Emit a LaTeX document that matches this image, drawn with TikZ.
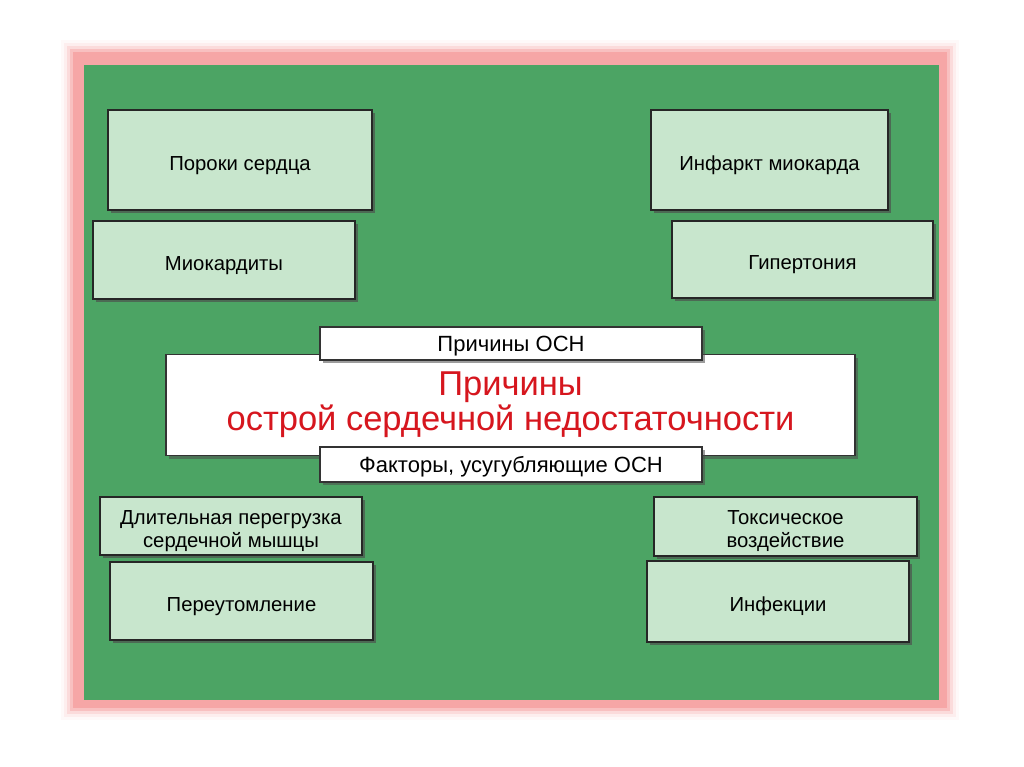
\documentclass[tikz,border=0pt]{standalone}
\usepackage{fontspec}
\setmainfont{Liberation Sans}
\usetikzlibrary{shadows}

\definecolor{slidegreen}{RGB}{76,164,100}
\definecolor{boxgreen}{RGB}{200,230,205}
\definecolor{framepink}{RGB}{246,166,166}
\definecolor{titlered}{RGB}{214,22,30}

\tikzset{
    cause/.style={draw=black!85, line width=1.6pt, fill=boxgreen, align=center,
        inner sep=0pt, font=\fontsize{20.3}{23}\selectfont,
        execute at begin node={\rule{0pt}{25pt}},
        drop shadow={shadow xshift=3pt, shadow yshift=-3pt, opacity=.65, fill=black!70}},
    twoline/.style={cause, execute at begin node={}},
    tag/.style={draw=black!80, line width=1.2pt, fill=white, inner sep=0pt,
        font=\fontsize{22}{25}\selectfont,
        execute at begin node={\rule{0pt}{21.5pt}},
        drop shadow={shadow xshift=3pt, shadow yshift=-3pt, opacity=.55, fill=black!70}}
}

\begin{document}
\begin{tikzpicture}[x=1pt, y=-1pt]
        \useasboundingbox (0,0) rectangle (1024,767);
        \fill[white] (0,0) rectangle (1024,767);
        \foreach \d/\o in {12/0.06, 9/0.12, 6/0.25, 3/0.5}
            \fill[framepink, opacity=\o] (73-\d,52-\d) rectangle (947+\d,708+\d);
        \fill[framepink] (73,52) rectangle (947,708);
        \fill[slidegreen] (84,65) rectangle (939,700);

        \node[cause, minimum width=264pt, minimum height=100pt] (defects) at (240,160) {Пороки сердца};
        \node[cause, minimum width=262pt, minimum height=78pt] (myocard) at (224,260) {Миокардиты};
        \node[cause, minimum width=237pt, minimum height=100pt] (infarct) at (769.5,160) {Инфаркт миокарда};
        \node[cause, minimum width=261pt, minimum height=77pt] (hypert) at (802.5,259.5) {Гипертония};

        \node[draw=black!80, line width=1.2pt, fill=white, align=center, inner sep=0pt,
            minimum width=689pt, minimum height=101pt, text=titlered,
            font=\fontsize{34.5}{35}\selectfont,
            drop shadow={shadow xshift=3pt, shadow yshift=-3pt, opacity=.55, fill=black!70}]
            (title) at (510.5,405) {Причины\\острой сердечной недостаточности};
        \node[tag, minimum width=382pt, minimum height=33pt] (causes) at (511,343.5) {Причины ОСН};
        \node[tag, minimum width=382pt, minimum height=35pt] (factors) at (511,464.5) {Факторы, усугубляющие ОСН};

        \node[twoline, minimum width=262pt, minimum height=58pt] (overload) at (231,526)
            {\begin{tabular}{@{}c@{}}\rule{0pt}{26pt}Длительная перегрузка\\сердечной мышцы\end{tabular}};
        \node[cause, minimum width=263pt, minimum height=78pt] (fatigue) at (241.5,601) {Переутомление};
        \node[twoline, minimum width=263pt, minimum height=59pt] (toxic) at (785.5,526.5)
            {\begin{tabular}{@{}c@{}}\rule{0pt}{26pt}Токсическое\\воздействие\end{tabular}};
        \node[cause, minimum width=262pt, minimum height=81pt] (infect) at (778,601.5) {Инфекции};
    \end{tikzpicture}
\end{document}
